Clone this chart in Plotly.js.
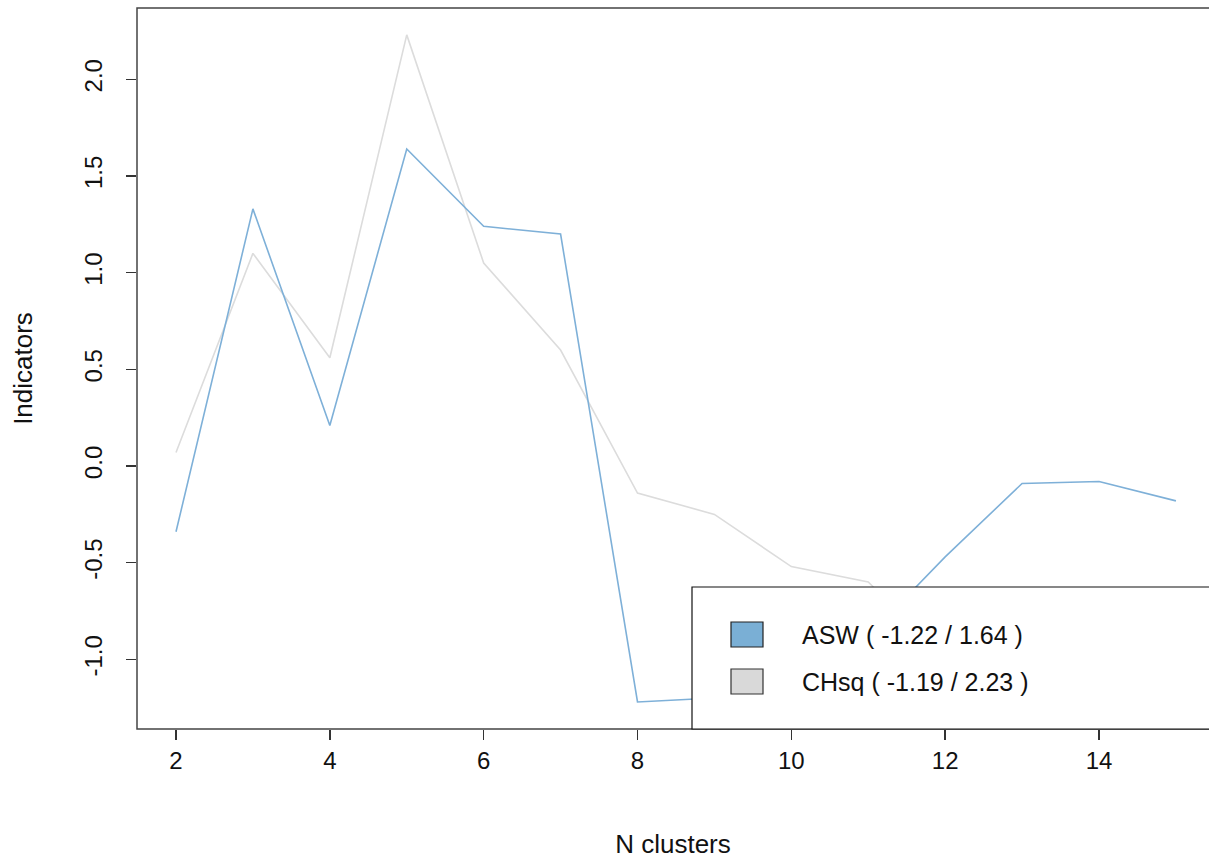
<!DOCTYPE html>
<html>
<head>
<meta charset="utf-8">
<script src="https://cdn.plot.ly/plotly-3.0.1.min.js"></script>
<style>html,body{margin:0;padding:0;background:#fff;}#chart{width:1209px;height:862px;}</style>
</head>
<body>
<div id="chart"></div>
<script>
// ---- data ----
const nClusters = [2, 3, 4, 5, 6, 7, 8, 9, 10, 11, 12, 13, 14, 15];
const asw  = [-0.34, 1.33, 0.21, 1.64, 1.24, 1.20, -1.22, -1.20, -1.05, -0.88, -0.47, -0.09, -0.08, -0.18];
const chsq = [0.07, 1.10, 0.56, 2.23, 1.05, 0.60, -0.14, -0.25, -0.52, -0.60, -1.00, -1.19, -1.10, -1.15];
const seriesNames = ["ASW", "CHsq"];
const xTicks = [2, 4, 6, 8, 10, 12, 14];
const yTicks = [-1.0, -0.5, 0.0, 0.5, 1.0, 1.5, 2.0];
const yTickText = ["-1.0", "-0.5", "0.0", "0.5", "1.0", "1.5", "2.0"];

// ---- styling ----
const W = 1209, H = 862;
const L = 137, T = 8, B = 729;          // plot area pixel bounds
const colBlue = "#7aafd5", colGrey = "#d9d9d9";
const lineBlue = "#7eb0d8", lineGrey = "#dcdcdc";
const font = "Liberation Sans, Arial, Helvetica, sans-serif";
const fs = 24;
const px2x = p => (p - L) / (W - L);
const px2y = p => (B - p) / (B - T);

function label(name, arr) {
  const mn = Math.min(...arr), mx = Math.max(...arr);
  return name + " ( " + mn.toFixed(2) + " / " + mx.toFixed(2) + " )";
}

const traces = [
  {x: nClusters, y: chsq, type: "scatter", mode: "lines", line: {color: lineGrey, width: 1.6}, showlegend: false, hoverinfo: "skip"},
  {x: nClusters, y: asw,  type: "scatter", mode: "lines", line: {color: lineBlue, width: 1.6}, showlegend: false, hoverinfo: "skip"}
];

const shapes = [
  // plot box (right edge runs off-page)
  {type: "rect", xref: "paper", yref: "paper", x0: 0, x1: 1.02, y0: 0, y1: 1, line: {color: "#444", width: 1.5}, layer: "above"},
  // legend box
  {type: "rect", xref: "paper", yref: "paper", x0: px2x(692), x1: 1.02, y0: px2y(729), y1: px2y(587), fillcolor: "#fff", line: {color: "#111", width: 1.2}, layer: "above"},
  {type: "rect", xref: "paper", yref: "paper", x0: px2x(731), x1: px2x(763), y0: px2y(647), y1: px2y(622), fillcolor: colBlue, line: {color: "#222", width: 1.2}, layer: "above"},
  {type: "rect", xref: "paper", yref: "paper", x0: px2x(731), x1: px2x(763), y0: px2y(694), y1: px2y(669), fillcolor: colGrey, line: {color: "#333", width: 1.2}, layer: "above"}
];

const annotations = [
  {xref: "paper", yref: "paper", x: px2x(800), y: px2y(634.5), xanchor: "left", yanchor: "middle", showarrow: false,
   text: label(seriesNames[0], asw), font: {family: font, size: 25, color: "#111"}},
  {xref: "paper", yref: "paper", x: px2x(800), y: px2y(681.5), xanchor: "left", yanchor: "middle", showarrow: false,
   text: label(seriesNames[1], chsq), font: {family: font, size: 25, color: "#111"}}
];

const layout = {
  width: W, height: H,
  margin: {l: L, r: 0, t: T, b: H - B, pad: 0},
  paper_bgcolor: "#fff", plot_bgcolor: "#fff",
  showlegend: false,
  font: {family: font, size: fs, color: "#111"},
  xaxis: {
    range: [1.493, 15.43], tickvals: xTicks, ticktext: xTicks.map(String),
    ticks: "outside", ticklen: 10, tickwidth: 1.5, tickcolor: "#333",
    showgrid: false, zeroline: false, showline: false,
    tickfont: {family: font, size: fs, color: "#111"},
    ticklabelstandoff: 0,
    title: {text: "N clusters", font: {family: font, size: 26, color: "#111"}, standoff: 62}
  },
  yaxis: {
    range: [-1.36, 2.369], tickvals: yTicks, ticktext: yTickText,
    ticks: "outside", ticklen: 10, tickwidth: 1.5, tickcolor: "#333",
    showgrid: false, zeroline: false, showline: false, tickangle: -90,
    tickfont: {family: font, size: fs, color: "#111"},
    ticklabelstandoff: 14,
    title: {text: "Indicators", font: {family: font, size: 26, color: "#111"}, standoff: 40}
  },
  shapes: shapes,
  annotations: annotations
};

Plotly.newPlot("chart", traces, layout, {displayModeBar: false, staticPlot: true});
</script>
</body>
</html>
